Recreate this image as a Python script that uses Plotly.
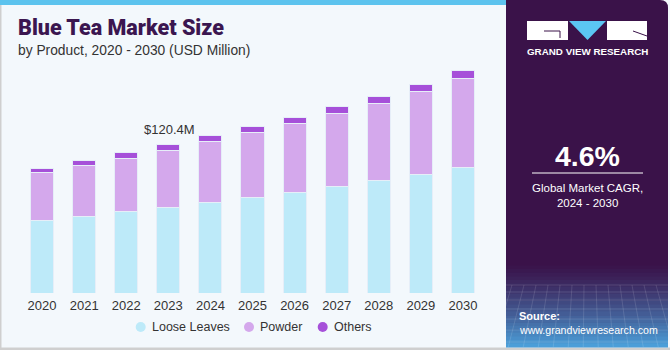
import plotly.graph_objects as go

years = ["2020", "2021", "2022", "2023", "2024", "2025", "2026", "2027", "2028", "2029", "2030"]
loose_leaves = [59.1, 62.3, 65.8, 69.6, 73.1, 77.5, 81.5, 86.1, 90.7, 95.8, 101.8]
powder = [38.1, 40.7, 43.2, 45.9, 49.4, 52.1, 55.9, 59.4, 62.9, 67.5, 71.5]
others = [4.0, 4.0, 4.5, 4.9, 4.9, 5.1, 5.1, 5.3, 5.9, 5.9, 6.5]
series_names = ["Loose Leaves", "Powder", "Others"]
series_colors = ["#BDEAF9", "#D4A8EC", "#A650D9"]

W, H = 670, 350
L, R, T, B = 21, 186, 60, 57
PW, PH = W - L - R, H - T - B
YMAX = PH * 0.8097


def xp(px):
    return (px - L) / PW


def yp(py):
    return (H - B - py) / PH


fig = go.Figure()
for name, vals, col in zip(series_names, [loose_leaves, powder, others], series_colors):
    fig.add_trace(go.Bar(
        x=years, y=vals, name=name, showlegend=False,
        marker=dict(color=col, line=dict(color="#E6EEF8", width=1)),
    ))

shapes = []
shapes.append(dict(type="rect", xref="paper", yref="paper", x0=xp(0), x1=xp(506), y0=yp(5), y1=yp(0),
                   fillcolor="#5CC3EE", line=dict(width=0), layer="below"))
shapes.append(dict(type="rect", xref="paper", yref="paper", x0=xp(0), x1=xp(1.5), y0=yp(348), y1=yp(5),
                   fillcolor="#CFCFCF", line=dict(width=0), layer="below"))
shapes.append(dict(type="rect", xref="paper", yref="paper", x0=xp(0), x1=xp(670), y0=yp(350), y1=yp(347.5),
                   fillcolor="#CFCFCF", line=dict(width=0), layer="below"))

px0, px1, py0, py1, rad = 506, 668, 0, 347, 8
path = (f"M {xp(px0)},{yp(py1)} L {xp(px0)},{yp(py0)} L {xp(px1 - rad)},{yp(py0)} "
        f"Q {xp(px1)},{yp(py0)} {xp(px1)},{yp(py0 + rad)} L {xp(px1)},{yp(py1)} Z")
shapes.append(dict(type="path", xref="paper", yref="paper", path=path,
                   fillcolor="#3A1249", line=dict(width=0)))
c0 = (0x3A, 0x12, 0x49)
c1 = (0x4C, 0xA2, 0xDC)
nb = 24
y_start, y_end = 262, 347
for i in range(nb):
    t = (i + 0.5) / nb
    t2 = t ** 1.3
    col = tuple(int(c0[k] + (c1[k] - c0[k]) * t2) for k in range(3))
    ya = y_start + (y_end - y_start) * i / nb
    yb = y_start + (y_end - y_start) * (i + 1) / nb + 0.5
    shapes.append(dict(type="rect", xref="paper", yref="paper", x0=xp(px0), x1=xp(px1),
                       y0=yp(yb), y1=yp(ya), fillcolor="rgb(%d,%d,%d)" % col, line=dict(width=0)))
for gx in range(512, 668, 12):
    shapes.append(dict(type="line", xref="paper", yref="paper", x0=xp(gx), x1=xp(gx + (gx - 587) * 0.25),
                       y0=yp(285), y1=yp(347), line=dict(color="rgba(255,255,255,0.12)", width=1)))
for gy in [285, 292, 300, 309, 319, 330, 342]:
    shapes.append(dict(type="line", xref="paper", yref="paper", x0=xp(px0), x1=xp(px1),
                       y0=yp(gy), y1=yp(gy), line=dict(color="rgba(255,255,255,0.12)", width=1)))

shapes.append(dict(type="rect", xref="paper", yref="paper", x0=xp(527), x1=xp(568), y0=yp(40), y1=yp(21),
                   fillcolor="white", line=dict(width=0)))
shapes.append(dict(type="path", xref="paper", yref="paper",
                   path=f"M {xp(544)},{yp(31)} L {xp(560)},{yp(31)} L {xp(560)},{yp(38)}",
                   line=dict(color="#3A1249", width=1)))
shapes.append(dict(type="path", xref="paper", yref="paper",
                   path=f"M {xp(569)},{yp(21)} L {xp(606)},{yp(21)} L {xp(587.5)},{yp(40)} Z",
                   fillcolor="#5BC6F3", line=dict(width=0)))
shapes.append(dict(type="rect", xref="paper", yref="paper", x0=xp(607), x1=xp(647), y0=yp(40), y1=yp(21),
                   fillcolor="white", line=dict(width=0)))
shapes.append(dict(type="line", xref="paper", yref="paper", x0=xp(633), x1=xp(647), y0=yp(31), y1=yp(36),
                   line=dict(color="#3A1249", width=1)))
shapes.append(dict(type="line", xref="paper", yref="paper", x0=xp(532), x1=xp(643), y0=yp(173), y1=yp(173),
                   line=dict(color="white", width=1)))

# legend markers (circles) placed beside the legend labels
legend_marker_x = [140.7, 249, 322.7]
legend_y = 327
for mx, col in zip(legend_marker_x, series_colors):
    shapes.append(dict(type="circle", xref="paper", yref="paper",
                       x0=xp(mx - 5), x1=xp(mx + 5), y0=yp(legend_y + 5), y1=yp(legend_y - 5),
                       fillcolor=col, line=dict(width=0)))


def ann(text, x, y, xanchor, size, color, family="Liberation Sans", weight=None):
    f = dict(family=family, size=size, color=color)
    if weight:
        f["weight"] = weight
    return dict(text=text, x=xp(x), y=yp(y), xref="paper", yref="paper", xanchor=xanchor, yanchor="middle",
                font=f, showarrow=False, align="center")


annotations = [
    ann("Blue Tea Market Size", 16, 27, "left", 21.5, "#3B1650", "Roboto", 900),
    ann("by Product, 2020 - 2030 (USD Million)", 16, 50, "left", 13.8, "#333333"),
    ann("$120.4M", 169, 129.5, "center", 13, "#333333"),
    ann("<b>GRAND VIEW RESEARCH</b>", 587.5, 51.5, "center", 9.8, "white"),
    ann("<b>4.6%</b>", 587.5, 156, "center", 28.5, "white"),
    ann("Global Market CAGR,<br>2024 - 2030", 587.5, 195, "center", 11.5, "white"),
    ann("<b>Source:</b>", 517, 316, "left", 11, "white"),
    ann("www.grandviewresearch.com", 517, 330, "left", 10.6, "white"),
]
for mx, name in zip(legend_marker_x, series_names):
    annotations.append(ann(name, mx + 9, legend_y, "left", 12.5, "#333333"))

fig.update_layout(
    width=W, height=H,
    margin=dict(l=L, r=R, t=T, b=B, pad=0),
    barmode="stack", bargap=0.45, showlegend=False,
    paper_bgcolor="#F3F8FC", plot_bgcolor="#F3F8FC",
    font=dict(family="Liberation Sans", size=12.5, color="#333333"),
    xaxis=dict(type="category", range=[-0.5, 10.5], showgrid=False, showline=False, zeroline=False,
               ticks="", tickfont=dict(size=13, color="#333333"), ticklabelstandoff=3),
    yaxis=dict(range=[0, YMAX], visible=False),
    shapes=shapes, annotations=annotations,
)

fig.write_html("out.html")
